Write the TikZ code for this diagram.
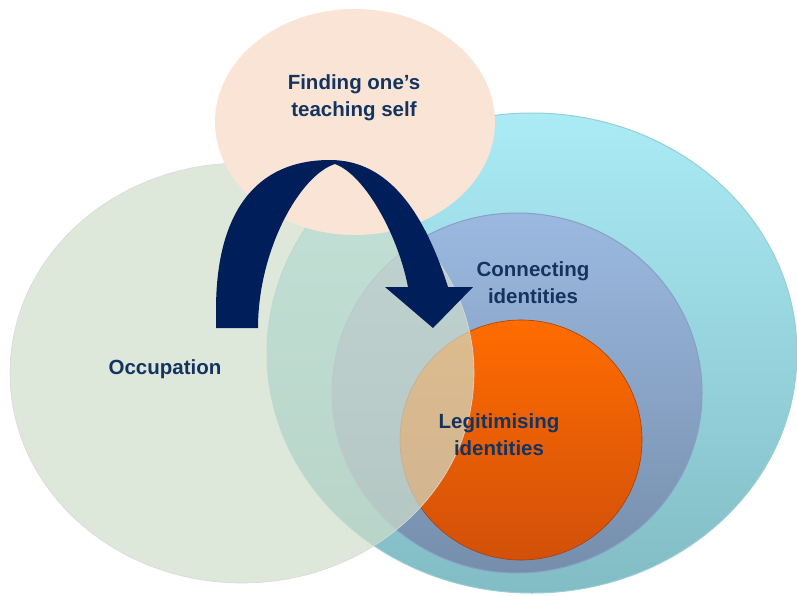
\documentclass[tikz,border=0pt]{standalone}
\usepackage{fontspec}
\setmainfont{Liberation Sans}
\definecolor{txt}{RGB}{20,52,96}
\definecolor{cyanT}{RGB}{170,235,245}
\definecolor{cyanB}{RGB}{130,188,196}
\definecolor{cyanE}{RGB}{150,205,215}
\definecolor{blueT}{RGB}{155,185,224}
\definecolor{blueB}{RGB}{118,142,172}
\definecolor{blueE}{RGB}{135,160,195}
\definecolor{orT}{RGB}{255,108,0}
\definecolor{orB}{RGB}{210,80,10}
\definecolor{occ}{RGB}{207,222,203}
\definecolor{peach}{RGB}{250,228,214}
\definecolor{navy}{RGB}{0,30,90}
\begin{document}
\begin{tikzpicture}[x=1pt,y=-1pt,
  lbl/.style={text=txt, font=\bfseries\fontsize{20.5}{27}\selectfont, align=center, inner sep=0pt}]
\useasboundingbox (0,0) rectangle (797,596);
% outer cyan circle
\shade[top color=cyanT, bottom color=cyanB, draw=cyanE, line width=1pt] (532,353) ellipse (265 and 240);
% connecting circle
\shade[top color=blueT, bottom color=blueB, draw=blueE, line width=1pt] (517,393) ellipse (185 and 180);
% legitimising circle
\shade[top color=orT, bottom color=orB, draw=orB!80!black, line width=0.6pt] (521,440) ellipse (121 and 120);
% occupation circle (translucent)
\fill[occ, fill opacity=0.7] (242,373) ellipse (232 and 210);
\draw[black!15, line width=0.6pt] (242,373) ellipse (232 and 210);
% finding ellipse
\fill[peach] (355,122) ellipse (140 and 113);
% curved arrow
\fill[navy] (216,328) -- (216,310)
  .. controls (216,212) and (256,160) .. (330,160)
  .. controls (390,160) and (425,215) .. (448,287)
  -- (473,287) -- (433,328) -- (385,287) -- (408,287)
  .. controls (398,235) and (365,175) .. (335,164)
  .. controls (300,175) and (258,250) .. (258,328) -- cycle;
% labels
\node[lbl] (finding) at (354,98) {Finding one’s\\teaching self};
\node[lbl] (occupation) at (165,369) {Occupation};
\node[lbl] (connecting) at (533,283) {Connecting\\identities};
\node[lbl] (legit) at (499,435) {Legitimising\\identities};
\end{tikzpicture}
\end{document}
